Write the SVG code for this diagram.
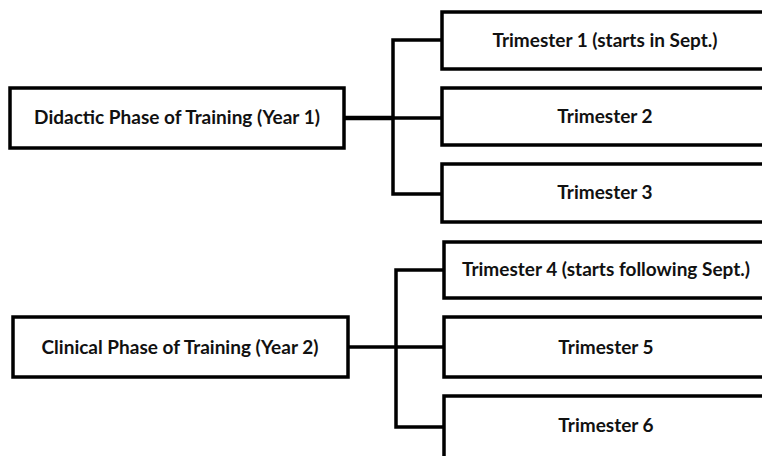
<svg xmlns="http://www.w3.org/2000/svg" width="762" height="456" viewBox="0 0 762 456">
<style>
.box{fill:#fff;stroke:#000;stroke-width:3.5}
.t{font-family:Lato,"Liberation Sans",sans-serif;font-weight:bold;font-size:19px;fill:#111;text-anchor:middle}
.c{fill:none;stroke:#000;stroke-width:3.5}
</style>
<rect width="762" height="456" fill="#fff"/>
<g id="connectors">
<line x1="344" y1="118" x2="393" y2="118" stroke="#000" stroke-width="4.5"/>
<path class="c" d="M442,40 H393 V194 H442 M393,118 H442"/>
<line class="c" x1="348" y1="347" x2="396" y2="347"/>
<path class="c" d="M444,270 H396 V427 H444 M396,347 H444"/>
</g>
<g id="didactic"><rect class="box" x="10" y="88" width="334" height="60"/><text class="t" x="177" y="124">Didactic Phase of Training (Year 1)</text></g>
<g id="t1"><rect class="box" x="442" y="12" width="326" height="57"/><text class="t" x="605" y="47">Trimester 1 (starts in Sept.)</text></g>
<g id="t2"><rect class="box" x="442" y="88" width="326" height="57"/><text class="t" x="605" y="123">Trimester 2</text></g>
<g id="t3"><rect class="box" x="442" y="164" width="326" height="58"/><text class="t" x="605" y="199">Trimester 3</text></g>
<g id="clinical"><rect class="box" x="13" y="317" width="335" height="60"/><text class="t" x="180" y="354">Clinical Phase of Training (Year 2)</text></g>
<g id="t4"><rect class="box" x="444" y="242" width="326" height="56"/><text class="t" x="606" y="276">Trimester 4 (starts following  Sept.)</text></g>
<g id="t5"><rect class="box" x="444" y="317" width="326" height="60"/><text class="t" x="606" y="354">Trimester 5</text></g>
<g id="t6"><rect class="box" x="444" y="396" width="326" height="70"/><text class="t" x="606" y="432">Trimester 6</text></g>
</svg>
